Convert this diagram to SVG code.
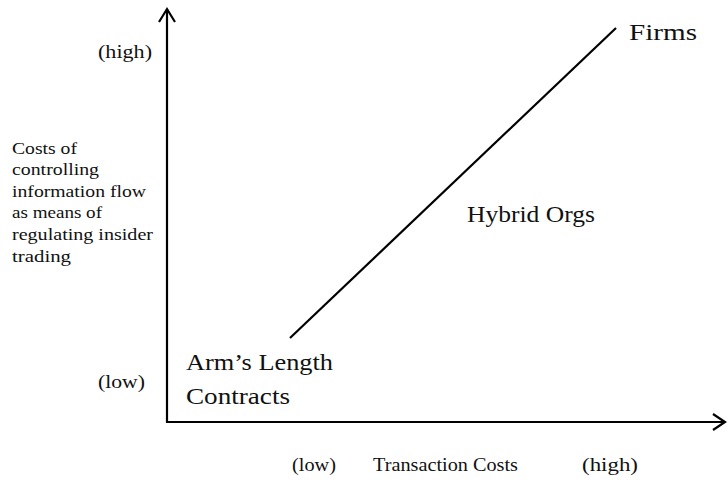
<svg xmlns="http://www.w3.org/2000/svg" width="728" height="486" viewBox="0 0 728 486">
<style>
text{font-family:"Liberation Serif","Times New Roman",serif;fill:#111}
.s{font-size:16px}
.m{font-size:18.5px}
.l{font-size:23.5px}
.ax{stroke:#000;stroke-width:2.2;fill:none}
</style>
<rect width="728" height="486" fill="#fff"/>
<g id="connectors">
<path class="ax" d="M167,423 V9"/>
<path class="ax" d="M159,22 L167,9 L175,22"/>
<path class="ax" d="M166,422 H725"/>
<path class="ax" d="M713,414 L725,422 L713,430"/>
<line x1="290" y1="338" x2="616" y2="28" stroke="#000" stroke-width="2.2"/>
</g>
<g id="y-axis-label">
<text class="m" x="98" y="58" textLength="54" lengthAdjust="spacingAndGlyphs">(high)</text>
<text class="m" x="98" y="388" textLength="47" lengthAdjust="spacingAndGlyphs">(low)</text>
<text class="s" x="12" y="154" textLength="65" lengthAdjust="spacingAndGlyphs">Costs of</text>
<text class="s" x="12" y="175" textLength="87" lengthAdjust="spacingAndGlyphs">controlling</text>
<text class="s" x="12" y="197" textLength="134" lengthAdjust="spacingAndGlyphs">information flow</text>
<text class="s" x="12" y="218" textLength="90" lengthAdjust="spacingAndGlyphs">as means of</text>
<text class="s" x="12" y="240" textLength="141" lengthAdjust="spacingAndGlyphs">regulating insider</text>
<text class="s" x="12" y="262" textLength="59" lengthAdjust="spacingAndGlyphs">trading</text>
</g>
<g id="x-axis-label">
<text class="m" x="292" y="471" textLength="44" lengthAdjust="spacingAndGlyphs">(low)</text>
<text class="m" x="373" y="471" textLength="145" lengthAdjust="spacingAndGlyphs">Transaction Costs</text>
<text class="m" x="582" y="471" textLength="56" lengthAdjust="spacingAndGlyphs">(high)</text>
</g>
<g id="arms-length"><text class="l" x="186" y="370" textLength="147" lengthAdjust="spacingAndGlyphs">Arm’s Length</text><text class="l" x="186" y="404" textLength="104" lengthAdjust="spacingAndGlyphs">Contracts</text></g>
<g id="hybrid"><text class="l" x="467" y="222" textLength="128" lengthAdjust="spacingAndGlyphs">Hybrid Orgs</text></g>
<g id="firms"><text class="l" x="629" y="40" textLength="68" lengthAdjust="spacingAndGlyphs">Firms</text></g>
</svg>
